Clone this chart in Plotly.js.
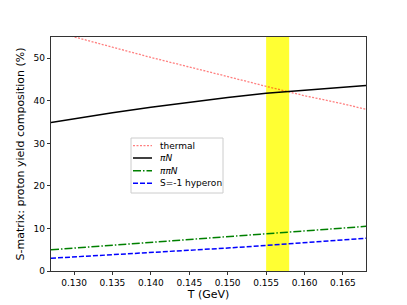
<!DOCTYPE html>
<html><head><meta charset="utf-8">
<script src="https://cdn.plot.ly/plotly-3.0.1.min.js"></script>
<style>html,body{margin:0;padding:0;background:#fff}#plot{width:407px;height:305px}</style>
</head><body><div id="plot"></div>
<script>
const T = [0.127, 0.130, 0.135, 0.140, 0.145, 0.150, 0.155, 0.160, 0.165, 0.168];
const thermal = [56.5, 55.0, 52.6, 50.2, 48.0, 45.7, 43.4, 41.2, 39.3, 38.0];
const piN     = [34.9, 35.8, 37.2, 38.5, 39.7, 40.8, 41.8, 42.5, 43.1, 43.6];
const pipiN   = [5.0, 5.4, 6.0, 6.6, 7.3, 8.0, 8.7, 9.4, 10.1, 10.5];
const hyperon = [3.0, 3.3, 3.8, 4.3, 4.9, 5.4, 6.0, 6.6, 7.3, 7.7];
const seriesNames = ['thermal', '<i>πN</i>', '<i>ππN</i>', 'S=-1 hyperon'];
const band = [0.155, 0.158];
const xTicks = [0.130, 0.135, 0.140, 0.145, 0.150, 0.155, 0.160, 0.165];
const yTicks = [0, 10, 20, 30, 40, 50];

const styles = [
  {color: 'rgba(255,0,0,0.5)', dash: '2px,1.5px', width: 1.3},
  {color: '#000000', dash: 'solid', width: 1.5},
  {color: '#008000', dash: '8px,2px,1.5px,2px', width: 1.5},
  {color: '#0000ff', dash: '5px,2px', width: 1.5}
];
const ys = [thermal, piN, pipiN, hyperon];
const traces = ys.map((y, i) => ({
  x: T, y: y, type: 'scatter', mode: 'lines', name: seriesNames[i],
  line: {color: styles[i].color, dash: styles[i].dash, width: styles[i].width},
  showlegend: false, hoverinfo: 'skip'
}));

// legend (custom, compact like matplotlib)
const L = 51, R = 366, TOP = 37, BOT = 271;
const px = x => (x - L) / (R - L);
const py = y => (BOT - y) / (BOT - TOP);
const shapes = [{
  type: 'rect', xref: 'x', yref: 'paper', x0: band[0], x1: band[1], y0: 0, y1: 1,
  fillcolor: 'rgba(255,255,0,0.8)', line: {width: 0}, layer: 'below'
}, {
  type: 'rect', xref: 'paper', yref: 'paper', x0: px(131), x1: px(223), y0: py(193), y1: py(138),
  fillcolor: 'rgba(255,255,255,0.8)', line: {color: '#cccccc', width: 1}
}];
const annotations = [];
const rows = [145.7, 158, 170.7, 183.3];
seriesNames.forEach((n, i) => {
  shapes.push({type: 'line', xref: 'paper', yref: 'paper', x0: px(133), x1: px(152),
    y0: py(rows[i]), y1: py(rows[i]), line: {color: styles[i].color, dash: styles[i].dash, width: styles[i].width}});
  annotations.push({xref: 'paper', yref: 'paper', x: px(158), y: py(rows[i]), xanchor: 'left', yanchor: 'middle',
    text: n, showarrow: false, font: {family: 'DejaVu Sans', size: 9, color: '#000'}});
});

const layout = {
  width: 407, height: 305,
  margin: {l: L, r: 407 - R, t: TOP, b: 305 - BOT},
  paper_bgcolor: '#fff', plot_bgcolor: '#fff',
  font: {family: 'DejaVu Sans', size: 9, color: '#000'},
  showlegend: false,
  xaxis: {range: [0.127, 0.168], tickvals: xTicks, ticktext: xTicks.map(v => v.toFixed(3)),
    ticks: 'outside', ticklen: 3.5, tickwidth: 0.8, tickcolor: '#000',
    showline: true, mirror: true, linecolor: '#000', linewidth: 0.8, showgrid: false, zeroline: false,
    title: {text: 'T (GeV)', font: {size: 11}, standoff: 3}},
  yaxis: {range: [0, 55], tickvals: yTicks, ticks: 'outside', ticklen: 3.5, tickwidth: 0.8, tickcolor: '#000',
    showline: true, mirror: true, linecolor: '#000', linewidth: 0.8, showgrid: false, zeroline: false,
    title: {text: 'S-matrix: proton yield composition (%)', font: {size: 11}, standoff: 6}},
  shapes: shapes, annotations: annotations
};
Plotly.newPlot('plot', traces, layout, {displayModeBar: false, staticPlot: true});
</script></body></html>
